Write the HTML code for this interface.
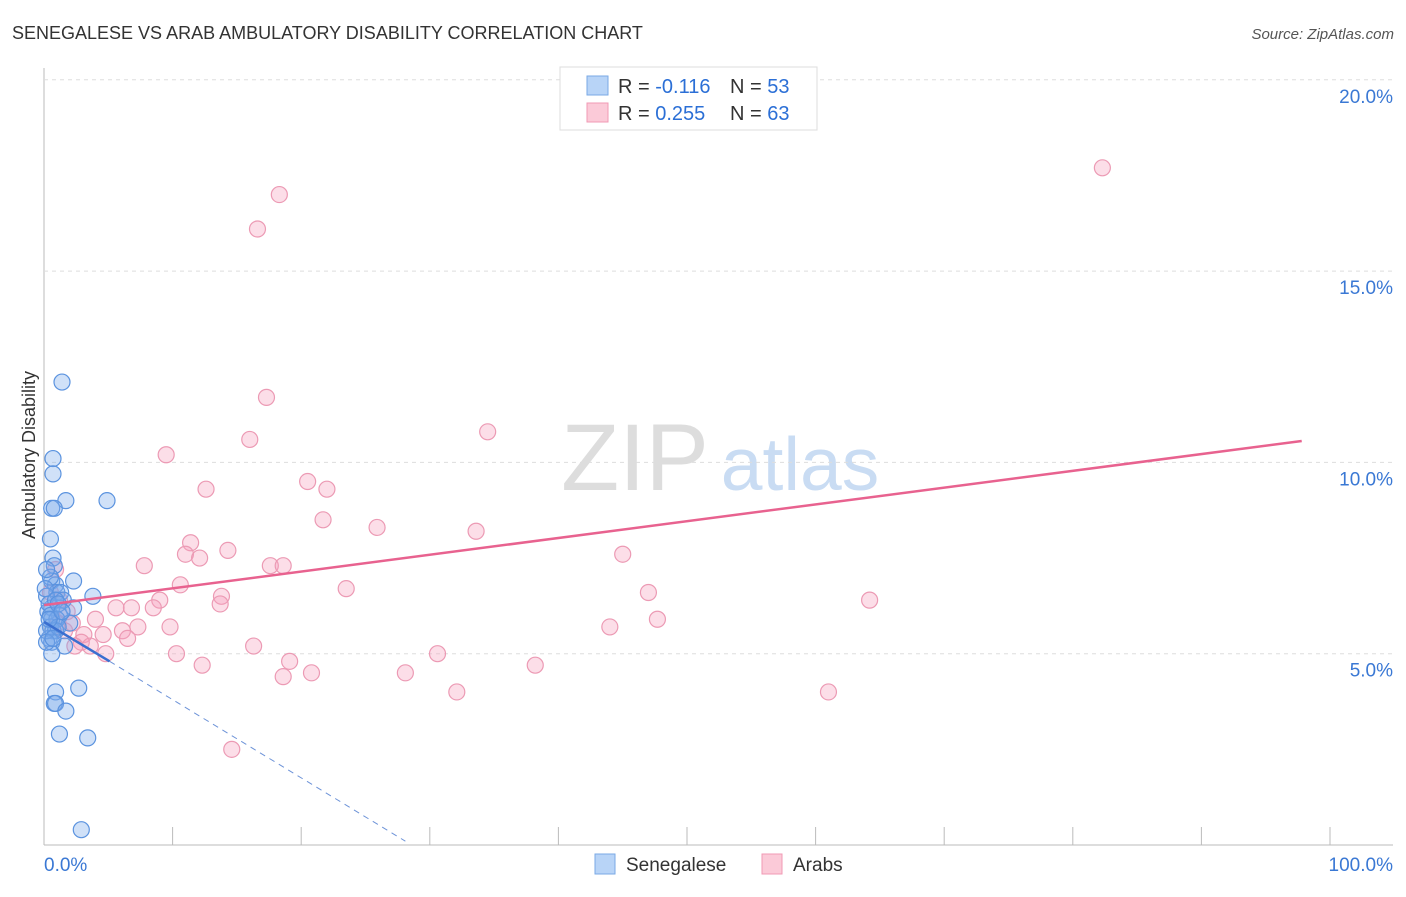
<!DOCTYPE html>
<html><head><meta charset="utf-8"><style>
body{margin:0;background:#fff;font-family:"Liberation Sans",sans-serif;}
svg text{font-family:"Liberation Sans",sans-serif;}
</style></head><body>
<svg id="c" width="1406" height="892" xmlns="http://www.w3.org/2000/svg">
<text x="12" y="39" font-size="18" fill="#333">SENEGALESE VS ARAB AMBULATORY DISABILITY CORRELATION CHART</text>
<text x="1394" y="39" font-size="15" fill="#555" font-style="italic" text-anchor="end">Source: ZipAtlas.com</text>
<text x="35" y="455" font-size="18" fill="#333" text-anchor="middle" transform="rotate(-90 35 455)">Ambulatory Disability</text>
<g><text x="635" y="490" font-size="95" fill="#ddd" font-family="Liberation Serif" text-anchor="middle" font-family="Liberation Serif">ZIP</text><text x="800" y="490" font-size="75" fill="#c9dcf3" text-anchor="middle">atlas</text></g>
<g id="grid"></g><g id="pts"></g><g id="lines"></g>
<g>
<rect x="560" y="67" width="257" height="63" fill="#fff" stroke="#ddd"/>
<rect x="587" y="76" width="21" height="19" fill="#b8d4f7" stroke="#7aa9e6"/>
<rect x="587" y="103" width="21" height="19" fill="#fbcad8" stroke="#f09ab4"/>
<text x="618" y="93" font-size="20" fill="#333">R = <tspan fill="#2b6fd6">-0.116</tspan></text>
<text x="730" y="93" font-size="20" fill="#333">N = <tspan fill="#2b6fd6">53</tspan></text>
<text x="618" y="120" font-size="20" fill="#333">R = <tspan fill="#2b6fd6"> 0.255</tspan></text>
<text x="730" y="120" font-size="20" fill="#333">N = <tspan fill="#2b6fd6">63</tspan></text>
</g>
<g>
<rect x="595" y="854" width="20" height="20" fill="#b8d4f7" stroke="#7aa9e6"/>
<text x="626" y="871" font-size="19" fill="#333">Senegalese</text>
<rect x="762" y="854" width="20" height="20" fill="#fbcad8" stroke="#f09ab4"/>
<text x="793" y="871" font-size="19" fill="#333">Arabs</text>
</g>
</svg>
<script>
const yTicks=[5,10,15,20];
const yTickLabels=["5.0%","10.0%","15.0%","20.0%"];
const xTicks=[0,10,20,30,40,50,60,70,80,90,100];
const senegalX=[1.4,0.7,0.7,1.7,4.9,0.6,0.8,0.5,0.7,0.8,0.6,0.9,2.3,1.0,1.3,3.8,1.5,0.6,2.3,1.2,0.3,0.6,1.0,2.0,0.5,0.7,0.9,0.4,0.6,1.6,0.6,0.9,0.8,0.9,1.7,2.7,1.2,3.4,2.9,0.2,0.4,0.5,0.9,1.1,0.2,0.2,0.5,0.1,1.1,0.4,1.4,0.7,0.2];
const senegalY=[12.1,10.1,9.7,9.0,9.0,8.8,8.8,8.0,7.5,7.3,6.9,6.8,6.9,6.6,6.6,6.5,6.4,6.2,6.2,6.0,6.1,5.9,5.9,5.8,5.7,5.6,5.6,5.4,5.3,5.2,5.0,4.0,3.7,3.7,3.5,4.1,2.9,2.8,0.4,6.5,6.3,6.0,6.4,6.3,5.6,5.3,7.0,6.7,5.7,5.9,6.1,5.4,7.2];
const arabX=[82.3,18.3,16.6,17.3,16.0,34.5,9.5,12.6,20.5,22.0,21.7,25.9,33.6,11.4,14.3,11.0,12.1,45.0,7.8,17.6,18.6,10.6,23.5,47.0,64.2,13.8,13.7,9.0,8.5,6.8,5.6,4.0,7.3,9.8,44.0,47.7,6.1,6.5,4.6,3.1,2.9,1.6,1.1,2.2,16.3,10.3,30.6,4.8,3.6,2.4,19.1,12.3,38.2,20.8,28.1,18.6,32.1,61.0,14.6,0.9,1.2,0.5,1.8];
const arabY=[17.7,17.0,16.1,11.7,10.6,10.8,10.2,9.3,9.5,9.3,8.5,8.3,8.2,7.9,7.7,7.6,7.5,7.6,7.3,7.3,7.3,6.8,6.7,6.6,6.4,6.5,6.3,6.4,6.2,6.2,6.2,5.9,5.7,5.7,5.7,5.9,5.6,5.4,5.5,5.5,5.3,5.6,5.8,5.8,5.2,5.0,5.0,5.0,5.2,5.2,4.8,4.7,4.7,4.5,4.5,4.4,4.0,4.0,2.5,7.2,6.4,6.6,6.1];
const arabTrend=[[0,6.27],[97.8,10.56]];
const senSolid=[[0,5.83],[5.1,4.8]];
const senDash=[[5.1,4.8],[28.1,0.1]];
const NS="http://www.w3.org/2000/svg";
const X=v=>44+v*12.86, Y=v=>845-v*38.26;
function mk(t,a,p){const e=document.createElementNS(NS,t);for(const k in a)e.setAttribute(k,a[k]);document.getElementById(p).appendChild(e);return e;}
let ax=mk('line',{x1:44,y1:68,x2:44,y2:845,stroke:'#bbb'},'grid');

let bx=mk('line',{x1:44,y1:845,x2:1393,y2:845,stroke:'#bbb'},'grid');

yTicks.forEach((t,i)=>{
 let g=mk('line',{x1:44,x2:1393,y1:Y(t),y2:Y(t),stroke:'#ddd','stroke-dasharray':'4,4'},'grid');
 
 let l=mk('text',{x:1393,y:Y(t)-26+50-17,'font-size':19,fill:'#3a78d4','text-anchor':'end'},'grid');
 l.setAttribute('y',Y(t)+23);l.textContent=yTickLabels[i];
 
});
xTicks.forEach(t=>{let k=mk('line',{x1:X(t),x2:X(t),y1:827,y2:845,stroke:'#bbb'},'grid');
 });
let x0=mk('text',{x:44,y:871,'font-size':19,fill:'#3a78d4'},'grid');x0.textContent='0.0%';

let x1=mk('text',{x:1393,y:871,'font-size':19,fill:'#3a78d4','text-anchor':'end'},'grid');x1.textContent='100.0%';

arabX.forEach((v,i)=>{let c=mk('circle',{cx:X(v),cy:Y(arabY[i]),r:8,fill:'rgba(246,160,188,0.35)',stroke:'#ec9ab4','stroke-width':1.2},'pts');
 });
senegalX.forEach((v,i)=>{let c=mk('circle',{cx:X(v),cy:Y(senegalY[i]),r:8,fill:'rgba(120,170,235,0.35)',stroke:'#5b93df','stroke-width':1.2},'pts');
 });
let a=mk('line',{x1:X(arabTrend[0][0]),y1:Y(arabTrend[0][1]),x2:X(arabTrend[1][0]),y2:Y(arabTrend[1][1]),stroke:'#e8628f','stroke-width':2.5},'lines');

let s=mk('line',{x1:X(senSolid[0][0]),y1:Y(senSolid[0][1]),x2:X(senSolid[1][0]),y2:Y(senSolid[1][1]),stroke:'#3a6fd0','stroke-width':2.5},'lines');

let d=mk('line',{x1:X(senDash[0][0]),y1:Y(senDash[0][1]),x2:X(senDash[1][0]),y2:Y(senDash[1][1]),stroke:'#6d93d8','stroke-width':1,'stroke-dasharray':'6,5'},'lines');

</script>
</body></html>
